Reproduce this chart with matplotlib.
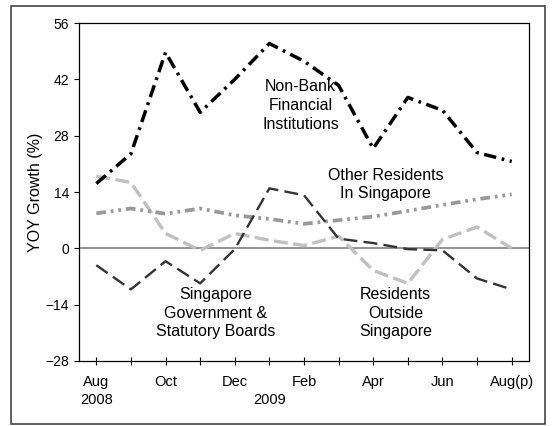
import matplotlib
matplotlib.use("Agg")
import matplotlib.pyplot as plt
from matplotlib.patches import Rectangle

plt.rcParams["font.family"] = ["Liberation Sans", "DejaVu Sans"]
plt.rcParams["lines.scale_dashes"] = False

months = ["Aug", "Sep", "Oct", "Nov", "Dec", "Jan", "Feb", "Mar", "Apr", "May", "Jun", "Jul", "Aug(p)"]
tick_labels = ["Aug", "", "Oct", "", "Dec", "", "Feb", "", "Apr", "", "Jun", "", "Aug(p)"]
years = [(0, "2008"), (5, "2009")]

non_bank = [16.1, 23.5, 48.7, 33.8, 42.0, 50.9, 46.5, 40.5, 24.8, 37.5, 34.3, 23.8, 21.6]
other_res = [8.7, 9.9, 8.6, 9.9, 8.2, 7.3, 6.1, 7.0, 7.9, 9.3, 10.8, 12.2, 13.4]
res_outside = [17.9, 16.4, 3.7, -0.5, 3.7, 2.0, 0.7, 3.0, -5.5, -8.7, 2.2, 5.3, 0.0]
govt = [-4.2, -10.2, -3.2, -8.7, -0.2, 14.9, 13.2, 2.4, 1.3, -0.2, -0.5, -7.5, -10.2]

x = list(range(len(months)))

fig = plt.figure(figsize=(5.52, 4.26), dpi=100)
fig.patches.append(Rectangle((11 / 552, 1 - 424 / 426), 534 / 552, 418 / 426,
                             transform=fig.transFigure, fill=False,
                             edgecolor="#444444", lw=1.2))
ax = fig.add_axes([79 / 552, 1 - 361 / 426, 450 / 552, 338 / 426])

ax.axhline(0, color="#808080", lw=1.2, zorder=1)
ax.plot(x, govt, color="#333333", lw=1.7, dashes=(10, 4.5), zorder=3)
ax.plot(x, res_outside, color="#c0c0c0", lw=2.4, dashes=(10, 4), zorder=2)
ax.plot(x, other_res, color="#999999", lw=2.7, dashes=(7, 3.5, 2, 3.5, 2, 3.5), zorder=2)
ax.plot(x, non_bank, color="black", lw=2.5, dashes=(9, 4, 2, 4), zorder=4)

ax.set_xlim(-0.5, 12.5)
ax.set_ylim(-28, 56)
ax.set_yticks([-28, -14, 0, 14, 28, 42, 56])
ax.set_xticks(x)
ax.set_xticklabels(tick_labels)
ax.tick_params(axis="x", direction="inout", length=6, width=0.8, labelsize=10.5, pad=7)
ax.tick_params(axis="y", direction="out", length=3.5, width=0.8, labelsize=10)
for s in ax.spines.values():
    s.set_linewidth(0.9)

for xi, yr in years:
    ax.text(xi, -0.115, yr, transform=ax.get_xaxis_transform(),
            ha="center", va="center", fontsize=10.5)

ax.set_ylabel("YOY Growth (%)", fontsize=11.5, labelpad=2)

ax.text(5.9, 35.5, "Non-Bank\nFinancial\nInstitutions", ha="center", va="center",
        fontsize=11.5, linespacing=1.3)
ax.text(8.35, 15.9, "Other Residents\nIn Singapore", ha="center", va="center",
        fontsize=11.5, linespacing=1.3)
ax.text(3.44, -16.1, "Singapore\nGovernment &\nStatutory Boards", ha="center", va="center",
        fontsize=11.5, linespacing=1.3)
ax.text(8.64, -16.1, "Residents\nOutside\nSingapore", ha="center", va="center",
        fontsize=11.5, linespacing=1.3)

fig.savefig("out.png", dpi=100)
